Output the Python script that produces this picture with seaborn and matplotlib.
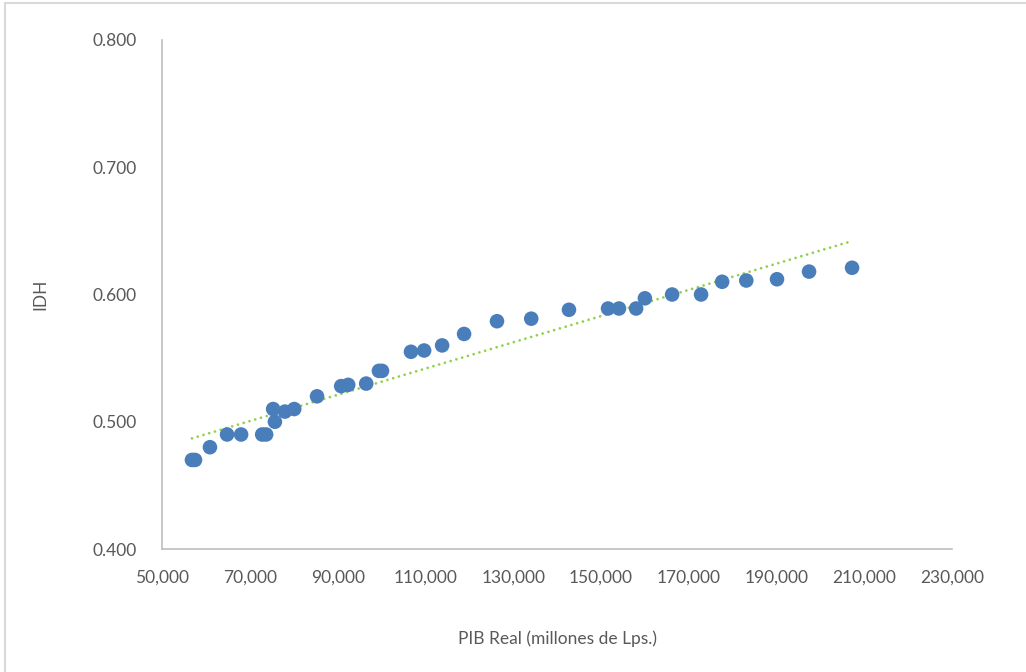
import matplotlib
matplotlib.use("Agg")
import matplotlib.pyplot as plt
import matplotlib.ticker as mticker
from matplotlib.lines import Line2D
import seaborn as sns
import pandas as pd

# PIB real (millones de Lps.) vs IDH
pib = [56800, 57500, 60900, 64800, 68000, 72800, 73700, 75300, 75700, 78000,
       80100, 85300, 90800, 92400, 96500, 99400, 100100, 106700, 109700, 113800,
       118800, 126300, 134100, 142700, 151600, 154100, 158000, 160000, 166200,
       172800, 177600, 183100, 190100, 197400, 207200]
idh = [0.470, 0.470, 0.480, 0.490, 0.490, 0.490, 0.490, 0.510, 0.500, 0.508,
       0.510, 0.520, 0.528, 0.529, 0.530, 0.540, 0.540, 0.555, 0.556, 0.560,
       0.569, 0.579, 0.581, 0.588, 0.589, 0.589, 0.589, 0.597, 0.600,
       0.600, 0.610, 0.611, 0.612, 0.618, 0.621]

df = pd.DataFrame({"pib": pib, "idh": idh})

sns.set_style("white")
plt.rcParams["font.family"] = ["Lato", "DejaVu Sans"]

fig = plt.figure(figsize=(10.26, 6.72), dpi=100)
ax = fig.add_axes([0.158, 0.183, 0.77, 0.7575])

sns.regplot(data=df, x="pib", y="idh", ax=ax, ci=None, scatter=False,
            line_kws=dict(color="#92D050", linestyle=(0, (0.01, 2.15)), linewidth=2.0,
                          dash_capstyle="round"))
sns.scatterplot(data=df, x="pib", y="idh", ax=ax, s=110, color="#4A7EBB",
                edgecolor="none", zorder=3)

ax.set_xlim(50000, 230000)
ax.set_ylim(0.4, 0.8)
ax.set_xticks(range(50000, 230001, 20000))
ax.set_yticks([0.4, 0.5, 0.6, 0.7, 0.8])
ax.xaxis.set_major_formatter(mticker.FuncFormatter(lambda v, p: f"{int(v):,}"))
ax.yaxis.set_major_formatter(mticker.FormatStrFormatter("%.3f"))
ax.tick_params(axis="both", length=0, labelsize=12.5, colors="#595959")
ax.tick_params(axis="x", pad=15)
ax.tick_params(axis="y", pad=18)

ax.set_xlabel("PIB Real (millones de Lps.)", fontsize=12.5, color="#595959", labelpad=32)
ax.set_ylabel("IDH", fontsize=12.5, color="#595959", labelpad=32)

sns.despine(ax=ax)
for s in ["left", "bottom"]:
    ax.spines[s].set_color("#BFBFBF")
    ax.spines[s].set_linewidth(1.2)

# chart frame (top and left edges visible)
fig.add_artist(Line2D([5 / 1026, 1], [1 - 3 / 672, 1 - 3 / 672], color="#D9D9D9",
                      linewidth=1.5, transform=fig.transFigure))
fig.add_artist(Line2D([5 / 1026, 5 / 1026], [0, 1 - 3 / 672], color="#D9D9D9",
                      linewidth=1.5, transform=fig.transFigure))

fig.savefig("out.png", dpi=100)
